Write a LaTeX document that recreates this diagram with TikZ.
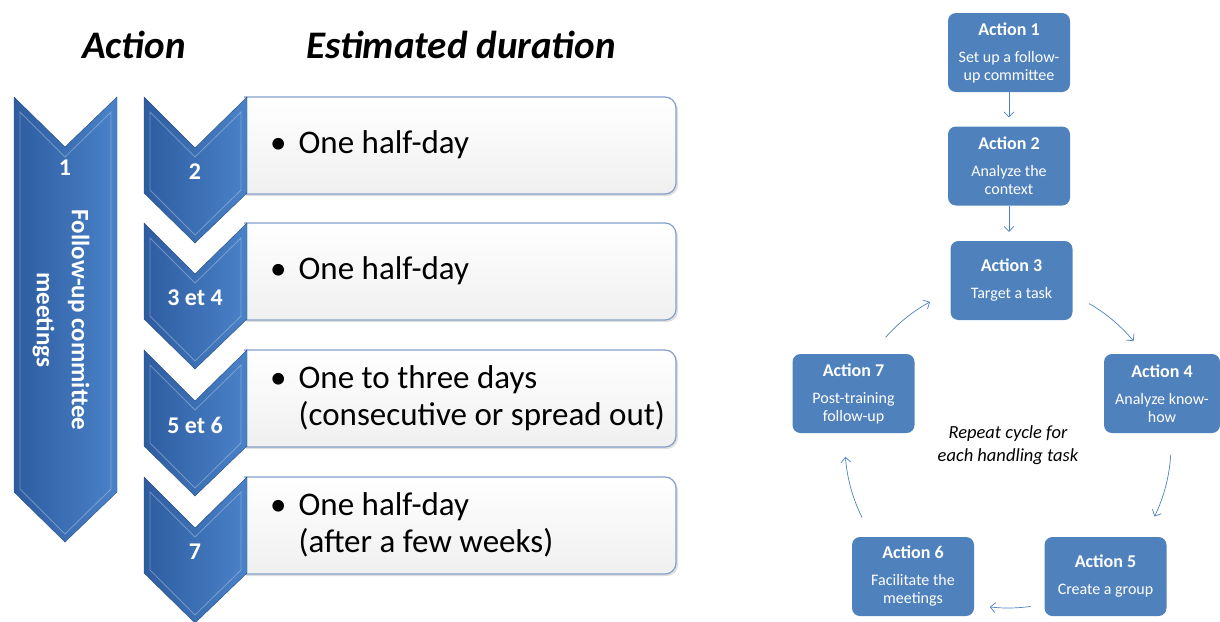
\documentclass[tikz,border=0pt]{standalone}
\usepackage{fontspec}
\setmainfont{Carlito}
\usepackage{tikz}
\usetikzlibrary{arrows.meta, shadows, calc}

\definecolor{actblue}{RGB}{79,129,189}
\definecolor{chevdark}{RGB}{46,92,160}
\definecolor{chevlight}{RGB}{74,130,200}
\definecolor{boxline}{RGB}{132,160,202}

\newcommand{\acttitle}[1]{{\fontsize{18}{21}\selectfont\bfseries #1}}

\begin{document}
\begin{tikzpicture}[
    x=1pt, y=-1pt,
    every node/.style={font=\fontsize{16}{18}\selectfont},
    head/.style={font=\fontsize{39}{42}\selectfont\bfseries\itshape},
    chevron/.style={left color=chevdark, right color=chevlight, draw=chevdark!85!black, line width=0.4pt},
    bevel/.style={draw=white, draw opacity=0.3, line width=0.8pt},
    chevlabel/.style={text=white, font=\fontsize{24}{28}\selectfont\bfseries},
    durbox/.style={draw=boxline, line width=1.2pt, rounded corners=11pt, top color=white, bottom color=black!6, drop shadow={opacity=0.25, shadow xshift=2pt, shadow yshift=-2pt}},
    durtext/.style={anchor=west, align=left, inner sep=0pt, font=\fontsize{33}{37}\selectfont},
    action/.style={rectangle, rounded corners=8pt, fill=actblue, text=white, align=center, minimum width=122pt, minimum height=79pt, inner sep=2pt},
    flow/.style={-{Straight Barb[length=5pt, width=10pt]}, draw=actblue, line width=0.7pt}
]
    \useasboundingbox (0,0) rectangle (1220,621);

    % Column headers
    \node[head] (hact) at (134,45) {Action};
    \node[head] (hdur) at (461,45) {Estimated duration};

    % Long chevron for the committee
    \path[chevron] (14,97) -- (65,147) -- (117,97) -- (117,492) -- (65,542) -- (14,492) -- cycle;
    \draw[bevel] (20,112) -- (65,157) -- (111,112) -- (111,489) -- (65,534) -- (20,489) -- cycle;
    \node[chevlabel] (num0) at (65,168) {1};
    \node[chevlabel, rotate=-90, align=center, font=\fontsize{25}{35}\selectfont\bfseries] (meet) at (61,320) {Follow-up committee\\meetings};

    % Chevrons with their duration boxes
    \foreach \t/\lab/\txt [count=\i] in {
        97/2/{One half-day},
        223/{3 et 4}/{One half-day},
        350/{5 et 6}/{One to three days\\\hphantom{\textbullet\hspace{12pt}}(consecutive or spread out)},
        477/7/{One half-day\\\hphantom{\textbullet\hspace{12pt}}(after a few weeks)}}
    {
        \path[durbox] (244,\t) -- (676,\t) -- (676,\t+97) -- (244,\t+97);
        \path[chevron] (144,\t) -- (195,\t+51) -- (247,\t) -- (247,\t+96) -- (195,\t+146) -- (144,\t+96) -- cycle;
        \draw[bevel] (150,\t+15) -- (195,\t+60) -- (241,\t+15) -- (241,\t+93) -- (195,\t+138) -- (150,\t+93) -- cycle;
        \node[chevlabel] (num\i) at (195,\t+75) {\lab};
        \node[durtext] (dur\i) at (270,\t+48) {\textbullet\hspace{12pt}\txt};
    }

    % Action boxes
    \node[action] (act1) at (1009,52.5) {\acttitle{Action 1}\\[9pt]Set up a follow-\\up committee};
    \node[action] (act2) at (1009,166) {\acttitle{Action 2}\\[9pt]Analyze the\\context};
    \node[action] (act3) at (1011.5,280.5) {\acttitle{Action 3}\\[9pt]Target a task};
    \node[action, minimum width=116pt] (act4) at (1162,393.5) {\acttitle{Action 4}\\[9pt]Analyze know-\\how};
    \node[action] (act5) at (1105.5,576.5) {\acttitle{Action 5}\\[9pt]Create a group};
    \node[action] (act6) at (913,576.5) {\acttitle{Action 6}\\[9pt]Facilitate the\\meetings};
    \node[action] (act7) at (853.5,393.5) {\acttitle{Action 7}\\[9pt]Post-training\\follow-up};

    \node[align=center, font=\fontsize{18.5}{23}\selectfont\itshape] (rep) at (1008,445) {Repeat cycle for\\each handling task};
    \coordinate (cyc) at (rep.center);

    % Flow arrows
    \draw[flow, shorten >=9pt] (act1.south) -- (act1.south |- act2.north);
    \draw[flow, shorten >=9pt] (act2.south) -- (act2.south |- act3.north);
    \foreach \a/\b in {-60.2/-39.6, 3.5/26, 82/96.4, 153.6/175.8, 221.3/241.4}
        \draw[flow] ([shift={(\a:163)}]cyc) arc[start angle=\a, end angle=\b, radius=163];
\end{tikzpicture}
\end{document}
